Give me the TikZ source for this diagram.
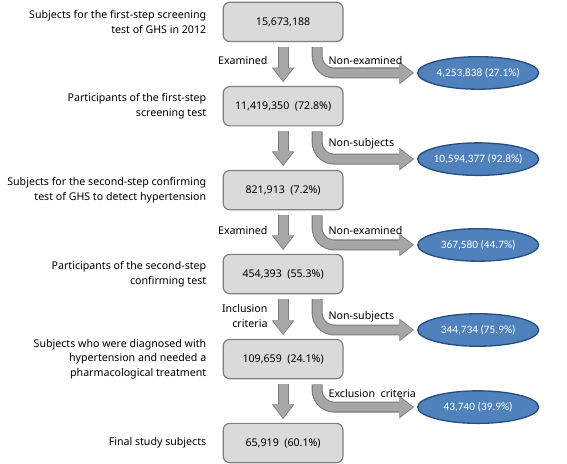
\documentclass[tikz,border=0pt]{standalone}
\usepackage{fontspec}
\setmainfont{Noto Sans}
\newfontfamily\ovalfont{Carlito}
\usetikzlibrary{shapes.geometric,arrows.meta}

\definecolor{boxfill}{HTML}{DADADA}
\definecolor{boxline}{HTML}{7F7F7F}
\definecolor{ovalfill}{HTML}{4F81BD}
\definecolor{ovalline}{HTML}{2A4E7E}
\definecolor{arrowfill}{HTML}{A6A6A6}
\definecolor{arrowline}{HTML}{7A7A7A}

\tikzset{
  every node/.style={font=\fontsize{8}{11}\selectfont},
  stepbox/.style={draw=boxline, fill=boxfill, line width=0.9pt, rounded corners=5pt,
    minimum width=3.17cm, minimum height=1.04cm},
  outbox/.style={ellipse, draw=ovalline, fill=ovalfill, line width=1pt, text=white,
    font=\ovalfont\fontsize{8.5}{10}\selectfont,
    minimum width=3.2cm, minimum height=0.86cm, inner xsep=-4pt, inner ysep=0pt},
  desc/.style={anchor=east, align=right},
  flow/.style={draw=arrowfill, line width=6.6pt, shorten >=0.9pt,
    -{Triangle[width=14.5pt,length=9.6pt,line width=0pt]},
    preaction={draw=arrowline, line width=8.2pt, shorten >=0pt,
      -{Triangle[width=17pt,length=11pt,line width=0pt]}}},
  sideflow/.style={flow, rounded corners=0.45cm}
}

\begin{document}
\begin{tikzpicture}
\useasboundingbox (0,0) rectangle (15,12.25);

% steps
\node[stepbox] (s1) at (7.49,11.67) {15,673,188};
\node[stepbox] (s2) at (7.49,9.44) {11,419,350~~(72.8\%)};
\node[stepbox] (s3) at (7.49,7.22) {821,913~~(7.2\%)};
\node[stepbox] (s4) at (7.49,5.00) {454,393~~(55.3\%)};
\node[stepbox] (s5) at (7.49,2.75) {109,659~~(24.1\%)};
\node[stepbox] (s6) at (7.49,0.53) {65,919~~(60.1\%)};

\node[desc] (d1) at (5.58,11.67) {Subjects for the first-step screening\\test of GHS in 2012};
\node[desc] (d2) at (5.58,9.44) {Participants of the first-step\\screening test};
\node[desc] (d3) at (5.58,7.22) {Subjects for the second-step confirming\\test of GHS to detect hypertension};
\node[desc] (d4) at (5.58,5.00) {Participants of the second-step\\confirming test};
\node[desc] (d5) at (5.58,2.75) {Subjects who were diagnosed with\\hypertension and needed a\\pharmacological treatment};
\node[desc] (d6) at (5.58,0.53) {Final study subjects};

% excluded
\node[outbox] (x1) at (12.65,10.32) {4,253,838 (27.1\%)};
\node[outbox] (x2) at (12.65,8.04) {10,594,377 (92.8\%)};
\node[outbox] (x3) at (12.65,5.77) {367,580 (44.7\%)};
\node[outbox] (x4) at (12.65,3.52) {344,734 (75.9\%)};
\node[outbox] (x5) at (12.65,1.48) {43,740 (39.9\%)};

% arrows down
\draw[flow] ([yshift=-0.13cm]s1.south) -- ([yshift=0.1cm]s2.north);
\draw[flow] ([yshift=-0.13cm]s2.south) -- ([yshift=0.1cm]s3.north);
\draw[flow] ([yshift=-0.13cm]s3.south) -- ([yshift=0.1cm]s4.north);
\draw[flow] ([yshift=-0.13cm]s4.south) -- ([yshift=0.1cm]s5.north);
\draw[flow] ([yshift=-0.13cm]s5.south) -- ([yshift=0.1cm]s6.north);

% arrows out
\draw[sideflow] ([xshift=0.9cm,yshift=-0.13cm]s1.south) |- ([xshift=-0.08cm]x1.west);
\draw[sideflow] ([xshift=0.9cm,yshift=-0.13cm]s2.south) |- ([xshift=-0.08cm]x2.west);
\draw[sideflow] ([xshift=0.9cm,yshift=-0.13cm]s3.south) |- ([xshift=-0.08cm]x3.west);
\draw[sideflow] ([xshift=0.9cm,yshift=-0.13cm]s4.south) |- ([xshift=-0.08cm]x4.west);
\draw[sideflow] ([xshift=0.9cm,yshift=-0.13cm]s5.south) |- ([xshift=-0.08cm]x5.west);

% labels
\node[anchor=east] (l1) at (7.2,10.66) {Examined};
\node[anchor=west] (l2) at (8.57,10.66) {Non-examined};
\node[anchor=west] (l3) at (8.57,8.44) {Non-subjects};
\node[anchor=east] (l4) at (7.2,6.14) {Examined};
\node[anchor=west] (l5) at (8.57,6.14) {Non-examined};
\node[anchor=east, align=right] (l6) at (7.2,3.89) {Inclusion\\criteria};
\node[anchor=west] (l7) at (8.57,3.86) {Non-subjects};
\node[anchor=west] (l8) at (8.57,1.85) {Exclusion~~criteria};

\end{tikzpicture}
\end{document}
